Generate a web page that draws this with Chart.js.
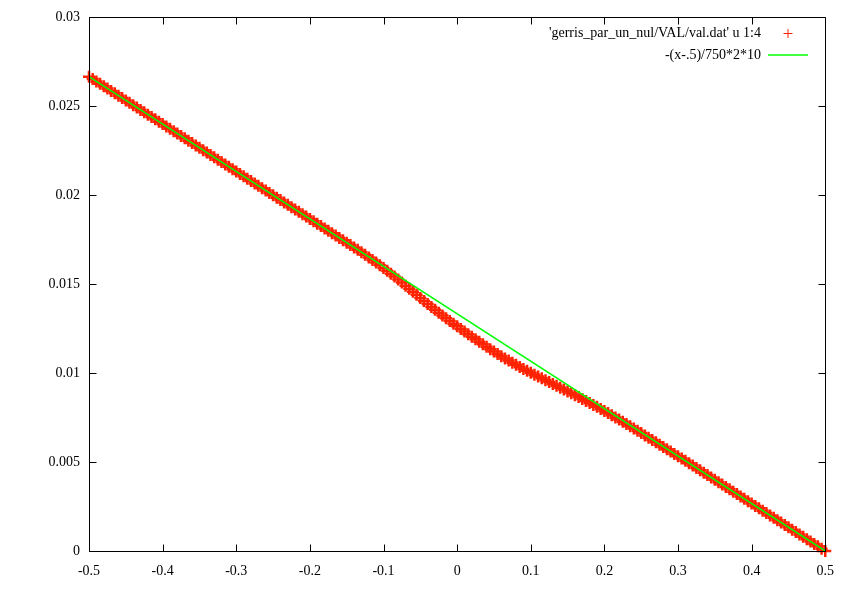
<!DOCTYPE html>
<html>
<head>
<meta charset="utf-8">
<title>gerris val.dat</title>
<script src="https://cdn.jsdelivr.net/npm/chart.js@4/dist/chart.umd.min.js"></script>
<style>
    body { margin: 0; background: #fff; }
    #wrap { width: 846px; height: 594px; }
</style>
</head>
<body>
<div id="wrap"><canvas id="plot"></canvas></div>
<script>
// ================= DATA =================

const seriesX = [
    -0.5, -0.495, -0.49, -0.485, -0.48, -0.475, -0.47, -0.465, -0.46, -0.455,
    -0.45, -0.445, -0.44, -0.435, -0.43, -0.425, -0.42, -0.415, -0.41, -0.405,
    -0.4, -0.395, -0.39, -0.385, -0.38, -0.375, -0.37, -0.365, -0.36, -0.355,
    -0.35, -0.345, -0.34, -0.335, -0.33, -0.325, -0.32, -0.315, -0.31, -0.305,
    -0.3, -0.295, -0.29, -0.285, -0.28, -0.275, -0.27, -0.265, -0.26, -0.255,
    -0.25, -0.245, -0.24, -0.235, -0.23, -0.225, -0.22, -0.215, -0.21, -0.205,
    -0.2, -0.195, -0.19, -0.185, -0.18, -0.175, -0.17, -0.165, -0.16, -0.155,
    -0.15, -0.145, -0.14, -0.135, -0.13, -0.125, -0.12, -0.115, -0.11, -0.105,
    -0.1, -0.095, -0.09, -0.085, -0.08, -0.075, -0.07, -0.065, -0.06, -0.055,
    -0.05, -0.045, -0.04, -0.035, -0.03, -0.025, -0.02, -0.015, -0.01, -0.005,
    0, 0.005, 0.01, 0.015, 0.02, 0.025, 0.03, 0.035, 0.04, 0.045,
    0.05, 0.055, 0.06, 0.065, 0.07, 0.075, 0.08, 0.085, 0.09, 0.095,
    0.1, 0.105, 0.11, 0.115, 0.12, 0.125, 0.13, 0.135, 0.14, 0.145,
    0.15, 0.155, 0.16, 0.165, 0.17, 0.175, 0.18, 0.185, 0.19, 0.195,
    0.2, 0.205, 0.21, 0.215, 0.22, 0.225, 0.23, 0.235, 0.24, 0.245,
    0.25, 0.255, 0.26, 0.265, 0.27, 0.275, 0.28, 0.285, 0.29, 0.295,
    0.3, 0.305, 0.31, 0.315, 0.32, 0.325, 0.33, 0.335, 0.34, 0.345,
    0.35, 0.355, 0.36, 0.365, 0.37, 0.375, 0.38, 0.385, 0.39, 0.395,
    0.4, 0.405, 0.41, 0.415, 0.42, 0.425, 0.43, 0.435, 0.44, 0.445,
    0.45, 0.455, 0.46, 0.465, 0.47, 0.475, 0.48, 0.485, 0.49, 0.495,
    0.5
];

// column 4 of val.dat
const seriesY = [
    0.026667, 0.026533, 0.0264, 0.026267, 0.026133, 0.026, 0.025867, 0.025733, 0.0256, 0.025467,
    0.025333, 0.0252, 0.025067, 0.024933, 0.0248, 0.024667, 0.024533, 0.0244, 0.024267, 0.024133,
    0.024, 0.023867, 0.023733, 0.0236, 0.023467, 0.023333, 0.0232, 0.023067, 0.022933, 0.0228,
    0.022667, 0.022533, 0.0224, 0.022267, 0.022133, 0.022, 0.021867, 0.021733, 0.0216, 0.021467,
    0.021333, 0.0212, 0.021067, 0.020933, 0.0208, 0.020667, 0.020533, 0.0204, 0.020267, 0.020133,
    0.02, 0.019867, 0.019733, 0.0196, 0.019467, 0.019333, 0.0192, 0.019067, 0.018933, 0.0188,
    0.018667, 0.018533, 0.0184, 0.018267, 0.018133, 0.018, 0.017867, 0.017733, 0.0176, 0.017467,
    0.017333, 0.0172, 0.017067, 0.016933, 0.0168, 0.01665, 0.016505, 0.016361, 0.016216, 0.016066,
    0.015916, 0.015755, 0.015593, 0.015432, 0.015265, 0.015092, 0.014919, 0.014747, 0.014574, 0.014402,
    0.014229, 0.014056, 0.013889, 0.013723, 0.013561, 0.0134, 0.013244, 0.013088, 0.012932, 0.012783,
    0.012632, 0.012482, 0.012338, 0.012192, 0.012048, 0.011904, 0.011764, 0.011626, 0.011487, 0.011348,
    0.011215, 0.011082, 0.010953, 0.010826, 0.010704, 0.010581, 0.010465, 0.010349, 0.010237, 0.010127,
    0.010022, 0.009916, 0.009811, 0.009706, 0.0096, 0.009495, 0.00939, 0.009284, 0.009179, 0.009074,
    0.008968, 0.008863, 0.008758, 0.008652, 0.008548, 0.008437, 0.008325, 0.008215, 0.008104, 0.007987,
    0.007871, 0.007755, 0.007632, 0.00751, 0.007388, 0.007266, 0.007138, 0.007011, 0.006883, 0.006755,
    0.006628, 0.006499, 0.006372, 0.006242, 0.006111, 0.00598, 0.00585, 0.005719, 0.005589, 0.005459,
    0.005327, 0.0052, 0.005067, 0.004933, 0.0048, 0.004667, 0.004533, 0.0044, 0.004267, 0.004133,
    0.004, 0.003867, 0.003733, 0.0036, 0.003467, 0.003333, 0.0032, 0.003067, 0.002933, 0.0028,
    0.002667, 0.002533, 0.0024, 0.002267, 0.002133, 0.002, 0.001867, 0.001733, 0.0016, 0.001467,
    0.001333, 0.0012, 0.001067, 0.000933, 0.0008, 0.000667, 0.000533, 0.0004, 0.000267, 0.000133,
    0
];

// -(x-.5)/750*2*10, end points
const fitX = [-0.5, 0.5];
const fitY = [0.026667, 0];

const xTicks = [-0.5, -0.4, -0.3, -0.2, -0.1, 0, 0.1, 0.2, 0.3, 0.4, 0.5];
const xTickLabels = ['-0.5', '-0.4', '-0.3', '-0.2', '-0.1', '0', '0.1', '0.2', '0.3', '0.4', '0.5'];
const yTicks = [0, 0.005, 0.01, 0.015, 0.02, 0.025, 0.03];
const yTickLabels = ['0', '0.005', '0.01', '0.015', '0.02', '0.025', '0.03'];

const legendLabels = ["'gerris_par_un_nul/VAL/val.dat' u 1:4", '-(x-.5)/750*2*10'];

const RED = 'rgb(255, 34, 0)';
const GREEN = 'rgb(0, 255, 0)';
const FONT = '14px "Liberation Serif", "Times New Roman", serif';

// ================= FRAME, TICKS, KEY =================

const gnuplotFrame = {
    id: 'gnuplotFrame',
    afterDraw(chart) {
        const { ctx, chartArea: a, scales } = chart;
        const L = Math.round(a.left) + 0.5, R = Math.round(a.right) + 0.5;
        const T = Math.round(a.top) + 0.5, B = Math.round(a.bottom) + 0.5;
        const tl = 7;

        ctx.save();
        ctx.strokeStyle = '#000';
        ctx.lineWidth = 1;
        ctx.beginPath();
        ctx.rect(L, T, R - L, B - T);

        xTicks.forEach(v => {
            const px = Math.round(scales.x.getPixelForValue(v)) + 0.5;
            ctx.moveTo(px, B); ctx.lineTo(px, B - tl);
            ctx.moveTo(px, T); ctx.lineTo(px, T + tl);
        });
        yTicks.forEach(v => {
            const py = Math.round(scales.y.getPixelForValue(v)) + 0.5;
            ctx.moveTo(L, py); ctx.lineTo(L + tl, py);
            ctx.moveTo(R, py); ctx.lineTo(R - tl, py);
        });
        ctx.stroke();

        // key, top right
        ctx.font = FONT;
        ctx.fillStyle = '#000';
        ctx.textAlign = 'right';
        ctx.textBaseline = 'middle';
        ctx.fillText(legendLabels[0], 761, 33);
        ctx.fillText(legendLabels[1], 761, 55);

        ctx.strokeStyle = RED;
        ctx.beginPath();
        ctx.moveTo(783.5, 33.5); ctx.lineTo(792.5, 33.5);
        ctx.moveTo(788, 29); ctx.lineTo(788, 38);
        ctx.stroke();

        ctx.strokeStyle = GREEN;
        ctx.lineWidth = 1.5;
        ctx.beginPath();
        ctx.moveTo(768, 55); ctx.lineTo(808, 55);
        ctx.stroke();
        ctx.restore();
    }
};

// ================= CHART =================

function buildChart() {
    const ctx = document.getElementById('plot');

    new Chart(ctx, {
        type: 'scatter',
        data: {
            datasets: [
                {
                    label: legendLabels[0],
                    order: 2,
                    data: seriesX.map((x, i) => ({ x: x, y: seriesY[i] })),
                    pointStyle: 'cross',
                    pointRadius: 6,
                    borderColor: RED,
                    backgroundColor: RED,
                    borderWidth: 2.5,
                    clip: false
                },
                {
                    label: legendLabels[1],
                    type: 'line',
                    order: 1,
                    data: fitX.map((x, i) => ({ x: x, y: fitY[i] })),
                    borderColor: GREEN,
                    borderWidth: 1.5,
                    pointRadius: 0,
                    fill: false,
                    tension: 0
                }
            ]
        },
        options: {
            responsive: true,
            maintainAspectRatio: false,
            animation: false,
            layout: { padding: { top: 16, right: 20, left: 0, bottom: 0 } },
            plugins: {
                legend: { display: false },
                tooltip: { enabled: false }
            },
            scales: {
                x: {
                    type: 'linear',
                    min: -0.5,
                    max: 0.5,
                    afterBuildTicks: s => { s.ticks = xTicks.map(v => ({ value: v })); },
                    afterFit: s => { s.height = 43; },
                    grid: { display: false, drawTicks: false },
                    border: { display: false },
                    ticks: {
                        color: '#000',
                        font: { family: '"Liberation Serif", "Times New Roman", serif', size: 14 },
                        padding: 12,
                        maxRotation: 0,
                        autoSkip: false,
                        callback: (v, i) => xTickLabels[i]
                    }
                },
                y: {
                    type: 'linear',
                    min: 0,
                    max: 0.03,
                    afterBuildTicks: s => { s.ticks = yTicks.map(v => ({ value: v })); },
                    afterFit: s => { s.width = 89; },
                    grid: { display: false, drawTicks: false },
                    border: { display: false },
                    ticks: {
                        color: '#000',
                        font: { family: '"Liberation Serif", "Times New Roman", serif', size: 14 },
                        padding: 9,
                        autoSkip: false,
                        callback: (v, i) => yTickLabels[i]
                    }
                }
            }
        },
        plugins: [gnuplotFrame]
    });
}

document.addEventListener('DOMContentLoaded', buildChart);
</script>
</body>
</html>
